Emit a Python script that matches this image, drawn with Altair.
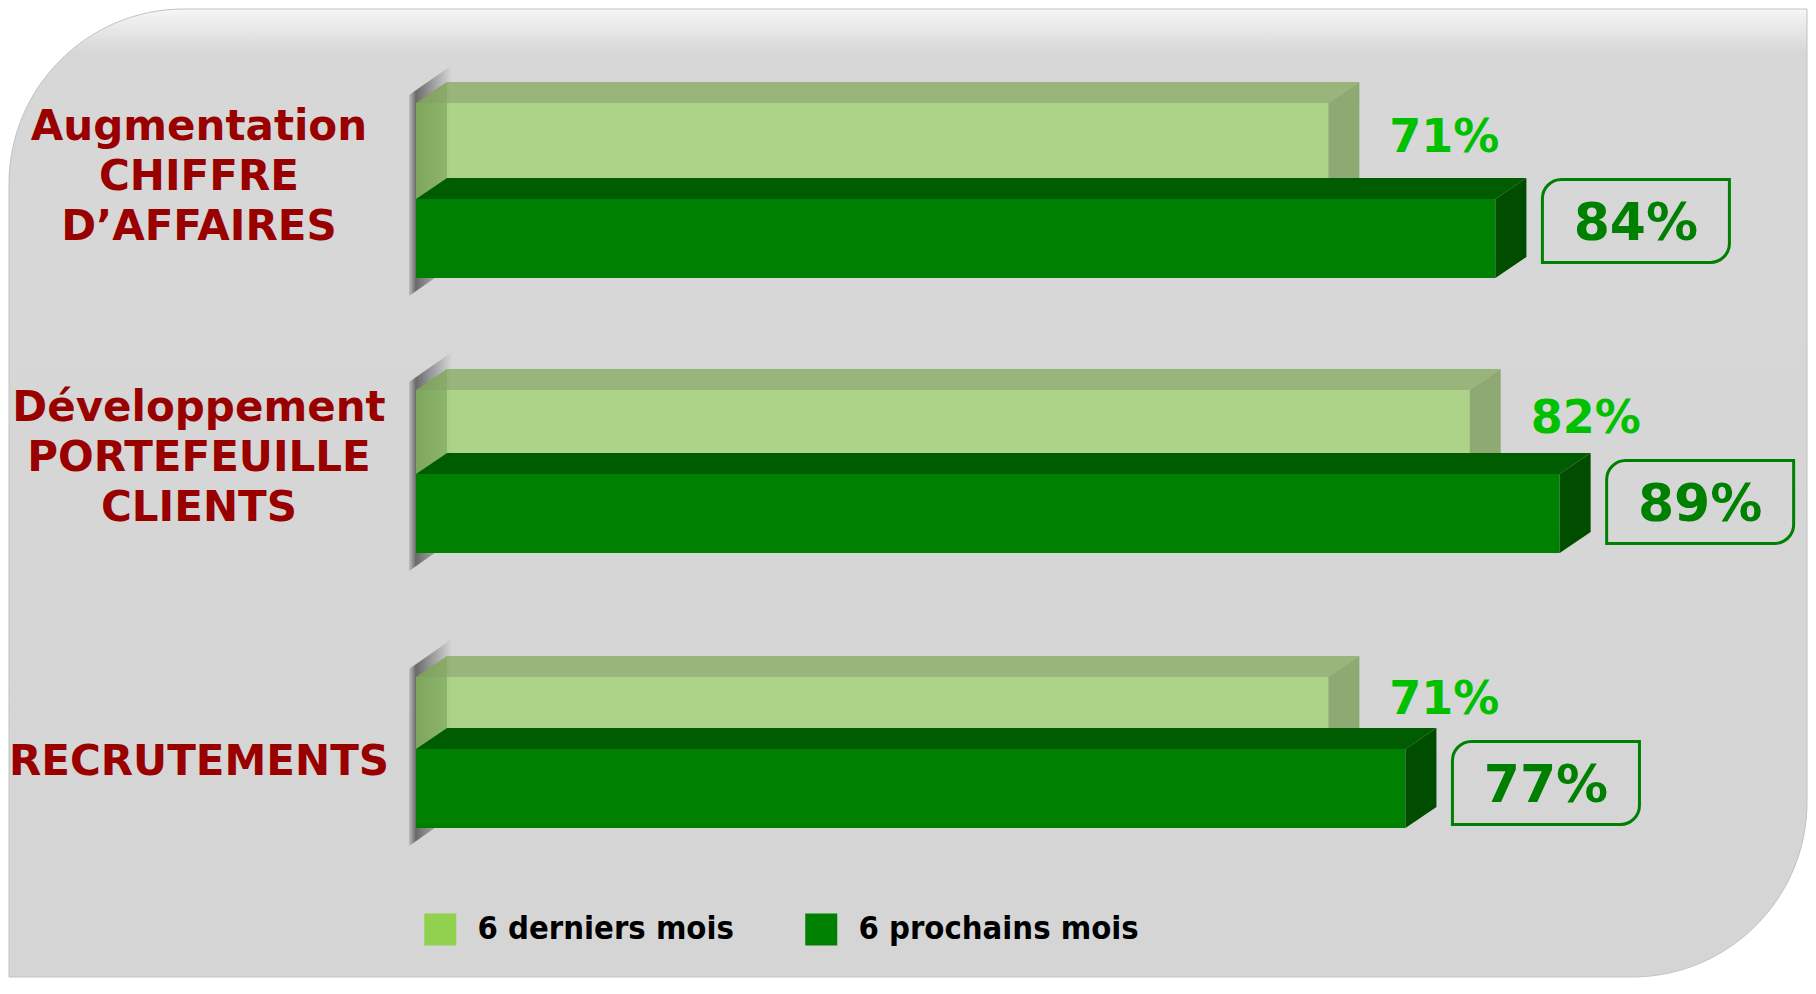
import altair as alt
import pandas as pd

# ---------------- data ----------------
categories = [
    "Augmentation\nCHIFFRE\nD’AFFAIRES",
    "Développement\nPORTEFEUILLE\nCLIENTS",
    "RECRUTEMENTS",
]
series_names = ["6 derniers mois", "6 prochains mois"]
last_6_months = [71, 82, 71]
next_6_months = [84, 89, 77]

# ---------------- layout / style ----------------
W, H = 1800, 970
X_ZERO = 408          # pixel of 0 %
PX_PER_PCT = 12.85
ROW_TOP = 185         # pixel of first row
ROW_STEP = 281
DEPTH_X, DEPTH_Y = 31, 21
DARK_H = 79
LIGHT_SHIFT, DARK_SHIFT, PERSP = -90, 6, 6   # slight perspective between rows


def pct(px):
    return px / PX_PER_PCT


def rows(px):
    return px / ROW_STEP


x_scale = alt.Scale(domain=[-X_ZERO / PX_PER_PCT, (W - X_ZERO) / PX_PER_PCT], nice=False, zero=False)
y_scale = alt.Scale(domain=[-ROW_TOP / ROW_STEP, (H - ROW_TOP) / ROW_STEP], nice=False, zero=False, reverse=True)

d, e = pct(DEPTH_X), rows(DEPTH_Y)


def faces(key, v, top, h):
    front = [dict(k=key, x=x, y=y, y2=y2) for x, y, y2 in [(0, top, top + h), (v, top, top + h)]]
    topf = [dict(k=key, x=x, y=y, y2=y2) for x, y, y2 in
            [(0, top, top), (d, top, top - e), (v, top, top - e), (v + d, top - e, top - e)]]
    right = [dict(k=key, x=x, y=y, y2=y2) for x, y, y2 in [(v, top, top + h), (v + d, top - e, top + h - e)]]
    left = [dict(k=key, x=x, y=y, y2=y2) for x, y, y2 in [(0, top, top + h), (d, top - e, top + h - e)]]
    return front, topf, right, left


lf, lt, lr, ll, df_, dt, dr, sh = [], [], [], [], [], [], [], []
for i, (a, b) in enumerate(zip(last_6_months, next_6_months)):
    l_top = i + rows(LIGHT_SHIFT + PERSP * i)
    d_top = i + rows(DARK_SHIFT - PERSP * i)
    f, t, r, lft = faces(f"L{i}", a, l_top, d_top - l_top)
    lf += f; lt += t; lr += r; ll += lft
    f, t, r, _ = faces(f"D{i}", b, d_top, rows(DARK_H))
    df_ += f; dt += t; dr += r
    ytop, ybot = l_top - rows(8), d_top + rows(DARK_H + 18)
    sh.append(dict(k=f"S{i}", x=pct(-7), y=ytop, y2=ybot))
    sh.append(dict(k=f"S{i}", x=pct(36), y=ytop - rows(30), y2=ybot - rows(30)))

labels = pd.DataFrame({
    "cat": categories,
    "r": list(range(len(categories))),
    "last": last_6_months,
    "next": next_6_months,
    "last_t": [f"{v}%" for v in last_6_months],
    "next_t": [f"{v}%" for v in next_6_months],
})


def area_layer(rows_, color, opacity=1.0):
    return alt.Chart(pd.DataFrame(rows_)).mark_area(color=color, opacity=opacity, strokeWidth=0).encode(
        x=alt.X("x:Q", scale=x_scale, axis=None),
        y=alt.Y("y:Q", scale=y_scale, axis=None, stack=None),
        y2="y2:Q",
        detail="k:N",
    )


panel = alt.Chart(pd.DataFrame({"a": [0]})).mark_rect(
    cornerRadiusTopLeft=175, cornerRadiusBottomRight=175,
    stroke="#c2c2c2", strokeWidth=1,
    color=alt.Gradient(
        gradient="linear",
        stops=[alt.GradientStop(color="#f6f6f6", offset=0),
               alt.GradientStop(color="#d7d7d7", offset=0.045),
               alt.GradientStop(color="#d5d5d5", offset=1)],
        x1=0, x2=0, y1=0, y2=1),
).encode(x=alt.value(1), x2=alt.value(W - 1), y=alt.value(1), y2=alt.value(H - 1))

shadow = alt.Chart(pd.DataFrame(sh)).mark_area(
    color=alt.Gradient(
        gradient="linear",
        stops=[alt.GradientStop(color="rgba(60,60,60,0.15)", offset=0),
               alt.GradientStop(color="rgba(60,60,60,0.7)", offset=0.16),
               alt.GradientStop(color="rgba(60,60,60,0.45)", offset=0.45),
               alt.GradientStop(color="rgba(60,60,60,0)", offset=1)],
        x1=0, x2=1, y1=0, y2=0),
).encode(
    x=alt.X("x:Q", scale=x_scale, axis=None),
    y=alt.Y("y:Q", scale=y_scale, axis=None, stack=None),
    y2="y2:Q",
    detail="k:N",
)

LOP = 0.75
light_front = area_layer(lf, "#9ed26c", LOP)
light_left = area_layer(ll, "#648c46", 0.4)
light_top = area_layer(lt, "#84a95c", LOP)
light_right = area_layer(lr, "#779952", LOP)
dark_top = area_layer(dt, "#005c00")
dark_front = area_layer(df_, "#008000")
dark_right = area_layer(dr, "#004d00")

base = alt.Chart(labels)
light_text = base.mark_text(
    align="left", baseline="middle", dx=61, dy=-55,
    font="DejaVu Sans", fontWeight="bold", fontSize=46, color="#00c000",
).encode(
    x=alt.X("last:Q", scale=x_scale, axis=None),
    y=alt.Y("r:Q", scale=y_scale, axis=None),
    text="last_t:N",
)

box = base.mark_rect(
    xOffset=47, x2Offset=234, yOffset=-13.5, y2Offset=69.5,
    cornerRadiusTopLeft=19, cornerRadiusBottomRight=19,
    fillOpacity=0, fill="#d5d5d5", stroke="#008000", strokeWidth=3,
).encode(
    x=alt.X("next:Q", scale=x_scale, axis=None),
    x2="next:Q",
    y=alt.Y("r:Q", scale=y_scale, axis=None),
    y2="r:Q",
)

dark_text = base.mark_text(
    align="center", baseline="middle", dx=140.5, dy=31,
    font="DejaVu Sans", fontWeight="bold", fontSize=52, color="#008000",
).encode(
    x=alt.X("next:Q", scale=x_scale, axis=None),
    y=alt.Y("r:Q", scale=y_scale, axis=None),
    text="next_t:N",
)

cat_style = dict(align="center", baseline="middle", lineBreak="\n", lineHeight=50,
                 font="DejaVu Sans", fontWeight="bold", fontSize=42, color="#990000")
cat_enc = dict(x=alt.value(191), y=alt.Y("r:Q", scale=y_scale, axis=None), text="cat:N")
cat_multi = base.transform_filter("indexof(datum.cat, '\\n') >= 0").mark_text(dy=-66, **cat_style).encode(**cat_enc)
cat_single = base.transform_filter("indexof(datum.cat, '\\n') < 0").mark_text(dy=7, **cat_style).encode(**cat_enc)

legend_src = alt.Chart(pd.DataFrame({"serie": series_names})).mark_square(opacity=0, size=4).encode(
    x=alt.value(W / 2), y=alt.value(H / 2),
    color=alt.Color(
        "serie:N",
        scale=alt.Scale(domain=series_names, range=["#92d050", "#008000"]),
        legend=alt.Legend(
            title=None, orient="none", legendX=416, legendY=905, direction="horizontal",
            symbolType="square", symbolSize=1024, symbolOpacity=1, symbolStrokeWidth=0,
            labelFont="DejaVu Sans Condensed", labelFontSize=32.5, labelFontWeight="bold",
            labelColor="#000000", labelOffset=21, columnPadding=71, padding=0, labelLimit=0,
        ),
    ),
)

chart = alt.layer(
    panel, shadow, light_front, light_left, light_top, light_right,
    dark_top, dark_front, dark_right,
    light_text, box, dark_text, cat_multi, cat_single, legend_src,
).properties(width=W, height=H, padding=0, background="#ffffff").configure_view(strokeWidth=0)

chart.save("out.html", embed_options={"renderer": "svg", "actions": False})
